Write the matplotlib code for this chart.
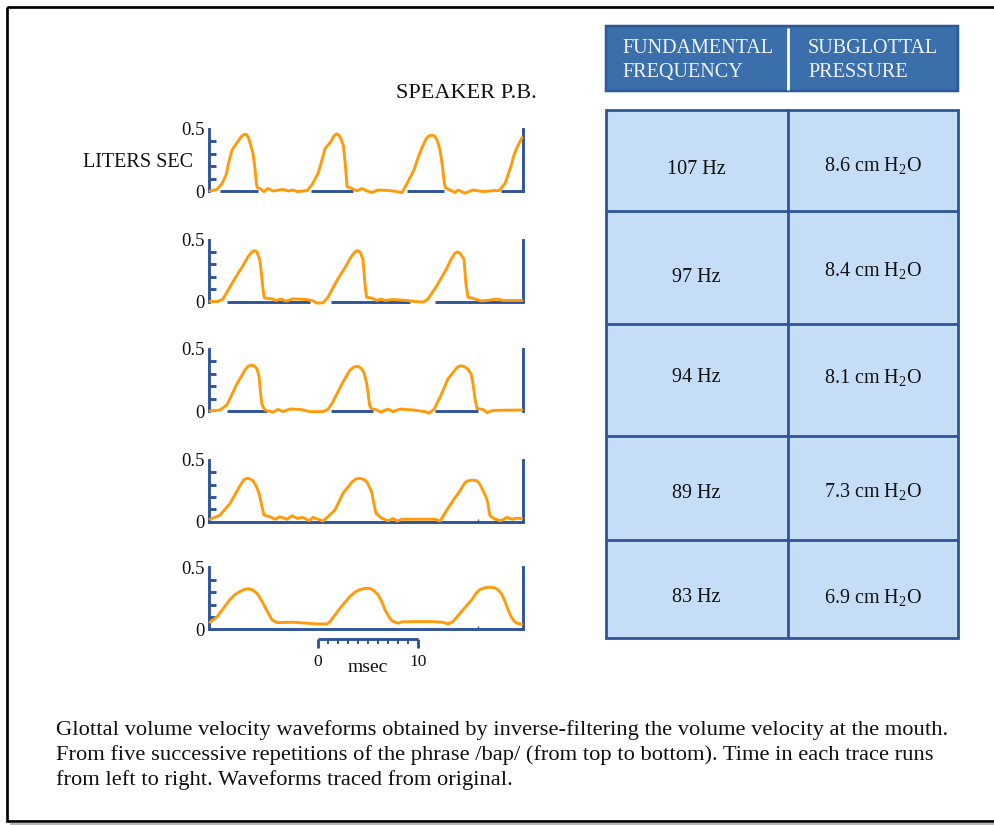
import numpy as np
import matplotlib
matplotlib.use("Agg")
import matplotlib.pyplot as plt
from matplotlib.patches import Rectangle

# ---------------- data ----------------
title = "SPEAKER P.B."
y_unit_label = "LITERS SEC"
header_lines = [["FUNDAMENTAL", "FREQUENCY"], ["SUBGLOTTAL", "PRESSURE"]]
frequencies = ["107 Hz", "97 Hz", "94 Hz", "89 Hz", "83 Hz"]
pressures = [r"8.6 cm H$_2$O", r"8.4 cm H$_2$O", r"8.1 cm H$_2$O",
             r"7.3 cm H$_2$O", r"6.9 cm H$_2$O"]
caption_lines = [
    "Glottal volume velocity waveforms obtained by inverse-filtering the volume velocity at the mouth.",
    "From five successive repetitions of the phrase /bap/ (from top to bottom). Time in each trace runs",
    "from left to right. Waveforms traced from original.",
]
y_ticks = [0, 0.5]
y_tick_labels = ["0", "0.5"]
y_minor_ticks = [0.1, 0.2, 0.3, 0.4]
scale_label_0, scale_label_10, scale_unit = "0", "10", "msec"
scale_start_ms = 10.9
scale_len_ms = 10

# (time msec, volume velocity l/s)
trace1 = [(0.1, 0.0), (0.8, 0.013), (1.3, 0.06), (1.7, 0.128), (2.0, 0.24), (2.3, 0.33), (2.8, 0.39),
          (3.2, 0.435), (3.5, 0.455), (3.75, 0.455), (3.95, 0.43), (4.2, 0.36), (4.4, 0.30), (4.6, 0.18),
          (4.75, 0.05), (4.85, 0.025), (5.1, 0.02), (5.5, -0.005), (5.9, 0.02), (6.4, 0.0), (7.4, 0.013),
          (7.9, 0.0), (8.4, 0.008), (8.8, -0.005), (9.8, 0.003), (10.3, 0.05), (10.9, 0.14), (11.3, 0.25),
          (11.6, 0.34), (12.2, 0.40), (12.5, 0.445), (12.75, 0.46), (13.0, 0.45), (13.2, 0.42), (13.45, 0.36),
          (13.65, 0.2), (13.8, 0.035), (14.3, 0.02), (14.8, 0.0), (15.3, 0.02), (15.8, 0.0), (16.3, -0.013),
          (16.9, 0.008), (17.8, 0.005), (18.4, 0.0), (19.3, -0.013), (19.8, 0.06), (20.5, 0.17), (21.0, 0.29),
          (21.3, 0.35), (21.7, 0.42), (22.0, 0.445), (22.35, 0.45), (22.6, 0.44), (22.85, 0.40), (23.1, 0.33),
          (23.35, 0.2), (23.5, 0.08), (23.65, 0.025), (24.1, 0.008), (24.6, -0.013), (24.9, 0.008),
          (25.6, -0.018), (26.4, 0.008), (27.4, -0.005), (28.4, 0.003), (29.0, 0.003), (29.6, 0.06),
          (30.2, 0.2), (30.5, 0.29), (30.8, 0.35), (31.3, 0.43)]
trace2 = [(0.1, 0.0), (0.9, 0.0), (1.4, 0.02), (2.4, 0.16), (3.4, 0.29), (3.9, 0.36), (4.3, 0.40),
          (4.55, 0.41), (4.8, 0.40), (5.1, 0.33), (5.35, 0.14), (5.5, 0.035), (5.7, 0.027), (6.4, 0.02),
          (6.7, 0.008), (7.2, 0.02), (7.7, 0.003), (8.4, 0.022), (9.7, 0.016), (10.3, 0.008), (10.8, -0.013),
          (11.4, -0.01), (11.9, 0.035), (12.8, 0.17), (13.8, 0.30), (14.2, 0.36), (14.6, 0.40), (14.85, 0.41),
          (15.1, 0.40), (15.4, 0.34), (15.6, 0.14), (15.75, 0.035), (16.3, 0.027), (16.8, 0.008), (17.2, 0.02),
          (17.6, 0.008), (18.4, 0.016), (19.8, 0.008), (20.6, 0.0), (21.4, -0.005), (21.9, 0.02), (22.8, 0.13),
          (23.8, 0.27), (24.2, 0.34), (24.6, 0.39), (24.85, 0.40), (25.1, 0.39), (25.5, 0.34), (25.7, 0.14),
          (25.9, 0.035), (26.6, 0.02), (27.2, 0.005), (27.8, 0.008), (28.8, 0.02), (29.4, 0.008), (31.3, 0.008)]
trace3 = [(0.1, 0.0), (1.1, 0.008), (1.8, 0.05), (2.8, 0.22), (3.6, 0.33), (3.9, 0.36), (4.2, 0.37),
          (4.5, 0.365), (4.8, 0.34), (5.0, 0.28), (5.15, 0.15), (5.3, 0.05), (5.6, 0.008), (6.4, -0.01),
          (6.9, 0.013), (7.4, -0.005), (8.1, 0.016), (9.1, 0.013), (10.1, -0.005), (11.4, -0.005),
          (11.9, 0.013), (12.4, 0.075), (13.3, 0.22), (14.1, 0.33), (14.5, 0.355), (14.9, 0.36), (15.2, 0.345),
          (15.5, 0.31), (15.75, 0.23), (15.9, 0.15), (16.05, 0.05), (16.2, 0.02), (16.6, 0.013), (17.2, -0.008),
          (17.9, 0.016), (18.4, -0.005), (19.1, 0.016), (20.4, 0.008), (21.6, -0.005), (22.0, -0.018),
          (22.5, 0.013), (23.1, 0.11), (23.9, 0.26), (24.8, 0.35), (25.15, 0.365), (25.5, 0.36), (25.85, 0.34),
          (26.2, 0.30), (26.4, 0.22), (26.6, 0.10), (26.8, 0.02), (27.4, 0.013), (27.8, -0.013), (28.4, 0.005),
          (31.3, 0.008)]
trace4 = [(0.1, 0.019), (1.1, 0.053), (2.1, 0.147), (3.1, 0.29), (3.5, 0.34), (3.8, 0.35), (4.1, 0.345),
          (4.4, 0.33), (4.7, 0.29), (5.0, 0.23), (5.3, 0.12), (5.5, 0.053), (6.1, 0.04), (6.6, 0.02),
          (7.1, 0.04), (7.8, 0.02), (8.3, 0.048), (8.8, 0.027), (9.4, 0.035), (10.0, 0.008), (10.4, 0.035),
          (11.4, 0.005), (11.9, 0.04), (12.6, 0.094), (13.4, 0.23), (14.3, 0.32), (14.7, 0.345), (15.1, 0.35),
          (15.5, 0.34), (15.8, 0.32), (16.1, 0.27), (16.3, 0.23), (16.5, 0.14), (16.7, 0.067), (17.3, 0.027),
          (17.9, 0.008), (18.4, 0.025), (18.8, 0.005), (19.3, 0.02), (21.1, 0.02), (22.6, 0.02), (23.1, 0.005),
          (24.1, 0.134), (25.1, 0.25), (25.6, 0.315), (25.9, 0.33), (26.35, 0.335), (26.8, 0.33), (27.1, 0.30),
          (27.4, 0.25), (27.7, 0.20), (27.9, 0.147), (28.0, 0.09), (28.1, 0.048), (28.6, 0.02), (29.2, 0.008),
          (29.8, 0.035), (30.3, 0.019), (30.6, 0.027), (31.3, 0.027)]
trace5 = [(0.1, 0.057), (0.8, 0.10), (2.1, 0.24), (2.6, 0.28), (3.1, 0.305), (3.5, 0.32), (3.9, 0.327),
          (4.3, 0.32), (4.8, 0.29), (5.2, 0.24), (5.6, 0.18), (6.0, 0.12), (6.3, 0.076), (6.8, 0.054),
          (8.4, 0.057), (9.8, 0.049), (10.8, 0.043), (11.8, 0.043), (12.1, 0.062), (13.1, 0.17), (14.1, 0.265),
          (14.6, 0.30), (15.1, 0.32), (15.6, 0.33), (16.1, 0.33), (16.5, 0.31), (16.9, 0.28), (17.3, 0.22),
          (17.6, 0.157), (18.0, 0.10), (18.3, 0.068), (18.9, 0.049), (19.3, 0.06), (20.4, 0.062), (22.1, 0.062),
          (23.4, 0.057), (23.9, 0.043), (24.4, 0.062), (25.4, 0.157), (26.3, 0.24), (26.7, 0.29), (27.1, 0.32),
          (27.6, 0.335), (28.1, 0.34), (28.5, 0.335), (28.9, 0.32), (29.3, 0.28), (29.6, 0.224), (30.0, 0.14),
          (30.3, 0.089), (30.6, 0.06), (30.8, 0.049), (31.3, 0.041)]

# baseline bars (msec start, end) under the traces; None = full axis line
bars1 = [(1.1, 4.9), (10.2, 14.4), (19.8, 23.5), (29.2, 31.4)]
bars2 = [(1.8, 10.1), (12.2, 20.1), (22.6, 31.3)]
bars3 = [(1.8, 5.8), (12.2, 16.4), (22.6, 26.9)]
traces = [(trace1, bars1), (trace2, bars2), (trace3, bars3), (trace4, None), (trace5, None)]
marker_tick_ms = 26.9  # small tick on the full baselines

# ---------------- style / layout ----------------
W, H, DPI = 995, 825, 100
PT = 72.0 / DPI  # points per pixel
ORANGE = "#ff9a0a"
BLUE = "#2f5597"
HEAD = "#3a6fab"
CELL = "#c6ddf8"
TIME_MAX = 31.4

plt.rcParams['font.family'] = ['Liberation Serif', 'DejaVu Serif']
plt.rcParams['mathtext.fontset'] = 'custom'
plt.rcParams['mathtext.rm'] = 'Liberation Serif'
plt.rcParams['mathtext.it'] = 'Liberation Serif:italic'
plt.rcParams['mathtext.bf'] = 'Liberation Serif:bold'

fig = plt.figure(figsize=(W / DPI, H / DPI), dpi=DPI)
fig.patch.set_facecolor("white")

bg = fig.add_axes([0, 0, 1, 1], zorder=0)
bg.set_xlim(0, W)
bg.set_ylim(H, 0)
bg.axis("off")


def px_axes(x0, ytop, x1, ybot):
    return fig.add_axes([x0 / W, 1 - ybot / H, (x1 - x0) / W, (ybot - ytop) / H], zorder=2)


# frame with shadow
bg.plot([10, W], [824, 824], color="#b5b5b5", lw=2.4 * PT, solid_capstyle="butt")
bg.add_patch(Rectangle((7.3, 7.3), W + 10, 821.3 - 7.3, fill=False, ec="black", lw=2.7 * PT))

# title and unit label
bg.text(466, 98, title, ha="center", va="baseline", fontsize=16, color="#111111")
bg.text(193, 167, y_unit_label, ha="right", va="baseline", fontsize=14.5, color="#111111")

# waveform panels
panel_zero_px = [191, 301.5, 411, 521.7, 629.3]
PH = 62.0
LW = 2.9 * PT
for i, ((pairs, bars), y0) in enumerate(zip(traces, panel_zero_px)):
    tt = [p[0] for p in pairs]
    vv = [p[1] for p in pairs]
    ax = px_axes(209, y0 - PH, 523, y0)
    ax.set_facecolor("none")
    ax.set_xlim(0, TIME_MAX)
    ax.set_ylim(0, 0.5)
    ax.spines["top"].set_visible(False)
    for s in ["left", "right", "bottom"]:
        ax.spines[s].set_color(BLUE)
        ax.spines[s].set_linewidth(LW)
        ax.spines[s].set_capstyle("projecting")
    ax.set_yticks(y_ticks)
    ax.set_yticklabels(y_tick_labels)
    ax.set_yticks(y_minor_ticks, minor=True)
    ax.tick_params(axis="y", which="major", length=0, pad=3, labelsize=13.5, labelcolor="#111111")
    ax.tick_params(axis="y", which="minor", direction="in", length=7 * PT, width=LW, color=BLUE)
    if bars is None:
        ax.set_xticks([marker_tick_ms])
        ax.tick_params(axis="x", direction="in", length=3 * PT, width=1.0, color=BLUE, labelbottom=False)
    else:
        ax.spines["bottom"].set_visible(False)
        ax.set_xticks([])
        for a, b in bars:
            ax.plot([a, b], [0, 0], color=BLUE, lw=LW, solid_capstyle="butt", clip_on=False, zorder=2)
    ax.plot(tt, vv, color=ORANGE, lw=LW, solid_joinstyle="round", solid_capstyle="round",
            clip_on=False, zorder=3)

    if i == 4:
        unit = 0.5 / PH  # data units per pixel
        xs = scale_start_ms + np.arange(scale_len_ms + 1)
        ytop = -10 * unit
        ax.plot([xs[0], xs[-1]], [ytop, ytop], color=BLUE, lw=LW, clip_on=False, solid_capstyle="butt")
        for k, x in enumerate(xs):
            end = k in (0, scale_len_ms)
            ybot = -19 * unit if end else -15 * unit
            ax.plot([x, x], [ytop, ybot], color=BLUE, lw=LW if end else 2.0 * PT,
                    clip_on=False, solid_capstyle="butt")
        ax.text(xs[0], -32.5 * unit, scale_label_0, ha="center", va="center", fontsize=12.5, color="#111111")
        ax.text(xs[-1], -32.5 * unit, scale_label_10, ha="center", va="center", fontsize=12.5, color="#111111")
        ax.text((xs[0] + xs[-1]) / 2, -43 * unit, scale_unit, ha="center", va="baseline",
                fontsize=14, color="#111111")

# table header
TX0, TX1, TXM = 606, 957.5, 787.5
bg.add_patch(Rectangle((TX0, 26), TX1 - TX0, 91 - 26, fc=HEAD, ec="#2d5a97", lw=2.5 * PT, zorder=1))
bg.plot([TXM, TXM], [27.5, 89.5], color="white", lw=2.8 * PT, zorder=2, solid_capstyle="butt")
for col_x, lines in zip([622, 808], header_lines):
    for ln, base in zip(lines, [53, 77]):
        bg.text(col_x, base, ln, ha="left", va="baseline", fontsize=14.5, color="#f2f5fb", zorder=3)

# table body
row_edges = [109.5, 211, 324, 435.5, 540, 637.5]
hz_base = [174.5, 282, 382.5, 497.5, 602.5]
pr_base = [171.5, 276, 382.5, 497.5, 602.5]
bg.add_patch(Rectangle((TX0, row_edges[0]), TX1 - TX0, row_edges[-1] - row_edges[0],
                       fc=CELL, ec=BLUE, lw=2.8 * PT, zorder=1))
for yy in row_edges[1:-1]:
    bg.plot([TX0, TX1], [yy, yy], color=BLUE, lw=2.8 * PT, zorder=2, solid_capstyle="butt")
bg.plot([TXM, TXM], [row_edges[0], row_edges[-1]], color=BLUE, lw=2.8 * PT, zorder=2, solid_capstyle="butt")
for f, p, yb1, yb2 in zip(frequencies, pressures, hz_base, pr_base):
    bg.text((TX0 + TXM) / 2, yb1, f, ha="center", va="baseline", fontsize=14.5, color="#111111", zorder=3)
    bg.text((TXM + TX1) / 2, yb2, p, ha="center", va="baseline", fontsize=14.5, color="#111111", zorder=3)

# caption
for ln, base in zip(caption_lines, [735, 760, 785]):
    bg.text(56, base, ln, ha="left", va="baseline", fontsize=16.2, color="#111111")

fig.savefig("out.png", dpi=DPI, facecolor="white")
